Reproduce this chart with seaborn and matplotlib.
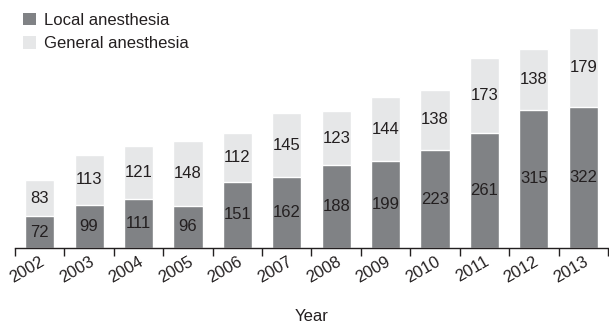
import pandas as pd
import matplotlib.pyplot as plt
import seaborn as sns
from matplotlib.patches import Patch

# data
years = ['2002', '2003', '2004', '2005', '2006', '2007',
         '2008', '2009', '2010', '2011', '2012', '2013']
local = [72, 99, 111, 96, 151, 162, 188, 199, 223, 261, 315, 322]
general = [83, 113, 121, 148, 112, 145, 123, 144, 138, 173, 138, 179]

dark = '#808285'
light = '#e6e7e8'
txt = '#231f20'

df = pd.DataFrame({'year': years, 'local': local, 'general': general})
df['total'] = df['local'] + df['general']

sns.set_style('white')
plt.rcParams['font.family'] = ['Liberation Sans', 'DejaVu Sans']

fig = plt.figure(figsize=(6.09, 3.26), dpi=100)
ax = fig.add_axes([15 / 609, 78 / 326, 593 / 609, 248 / 326])

sns.barplot(data=df, x='year', y='total', color=light, width=0.59,
            saturation=1, ax=ax)
sns.barplot(data=df, x='year', y='local', color=dark, width=0.59,
            saturation=1, ax=ax)

# value labels in the middle of each segment
for i in range(len(years)):
    ax.text(i, local[i] / 2, str(local[i]), ha='center', va='center',
            fontsize=12, color=txt)
    ax.text(i, local[i] + general[i] / 2, str(general[i]), ha='center',
            va='center', fontsize=12, color=txt)

ax.set_xlim(-0.5, len(years) - 0.5)
ax.set_ylim(0, 565)
ax.set_yticks([])
ax.set_ylabel('')
sns.despine(ax=ax, left=True, top=True, right=True)
ax.spines['bottom'].set_color(txt)
ax.spines['bottom'].set_linewidth(1)

# tick marks between the bars, labels under the bars
ax.set_xticks([i - 0.5 for i in range(len(years) + 1)], minor=True)
ax.tick_params(axis='x', which='minor', length=6, width=1, color=txt,
               direction='out', bottom=True)
ax.tick_params(axis='x', which='major', length=0, pad=4)
ax.set_xticks(range(len(years)))
ax.set_xticklabels(years, rotation=30, ha='right', rotation_mode='anchor',
                   fontsize=12, color=txt)

ax.set_xlabel('Year', fontsize=12, color=txt)
ax.xaxis.set_label_coords(0.5, -0.245)

handles = [Patch(facecolor=dark, edgecolor='none', label='Local anesthesia'),
           Patch(facecolor=light, edgecolor='none', label='General anesthesia')]
leg = fig.legend(handles=handles, loc='upper left',
                 bbox_to_anchor=(16 / 609, 1 - 6 / 326), frameon=False,
                 fontsize=12, handlelength=0.8, handleheight=0.8,
                 handletextpad=0.5, labelspacing=0.5, borderaxespad=0)
for t in leg.get_texts():
    t.set_color(txt)

fig.savefig('out.png', dpi=100)
